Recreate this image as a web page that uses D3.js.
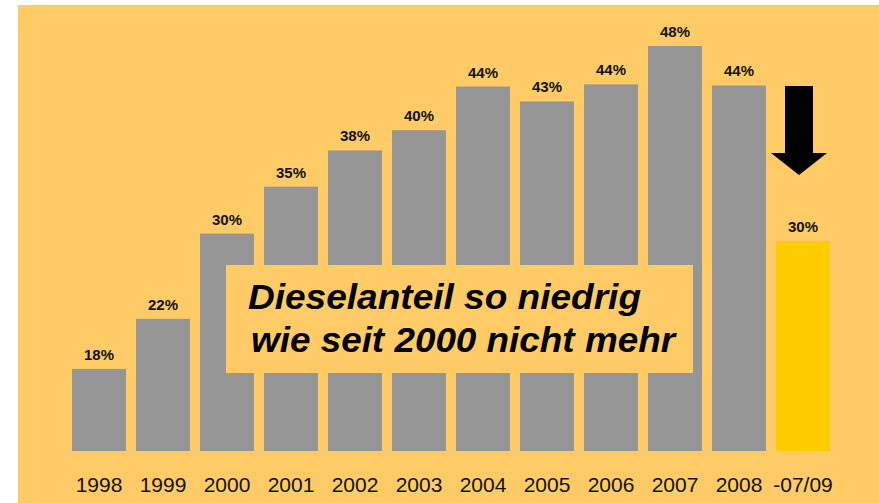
<!DOCTYPE html>
<html><head><meta charset="utf-8">
<script src="https://cdnjs.cloudflare.com/ajax/libs/d3/7.8.5/d3.min.js"></script>
<style>html,body{margin:0;padding:0;background:#fff;}svg{display:block;}</style>
</head><body>
<script>
const categories = ["1998","1999","2000","2001","2002","2003","2004","2005","2006","2007","2008","-07/09"];
const values = [17.7, 22.4, 30.4, 34.8, 38.2, 40.1, 44.2, 42.8, 44.4, 48.0, 44.3, 29.7];
const highlight = ["-07/09"];
const noteLines = ["Dieselanteil so niedrig", "wie seit 2000 nicht mehr"];

const W = 879, H = 503;
const svg = d3.select("body").append("svg").attr("width", W).attr("height", H);

svg.append("rect").attr("x", 18).attr("y", 5).attr("width", W - 18).attr("height", H - 5).attr("fill", "#FECB67");

const x = d3.scaleBand().domain(categories).range([67, 835]).paddingInner(10/64).paddingOuter(5/64);
const y = d3.scaleLinear().domain([10, 48]).range([451, 46]);

svg.selectAll("rect.bar").data(categories).join("rect")
  .attr("class", "bar")
  .attr("x", d => x(d))
  .attr("width", x.bandwidth())
  .attr("y", (d, i) => y(values[i]))
  .attr("height", (d, i) => y(10) - y(values[i]))
  .attr("fill", d => highlight.includes(d) ? "#FFCC00" : "#969696");

svg.selectAll("text.val").data(categories).join("text")
  .attr("class", "val")
  .attr("x", d => x(d) + x.bandwidth() / 2)
  .attr("y", (d, i) => y(values[i]) - 9)
  .attr("text-anchor", "middle")
  .attr("font-family", "Liberation Sans, Arial, sans-serif")
  .attr("font-weight", "bold")
  .attr("font-size", 15)
  .attr("fill", "#111")
  .text((d, i) => d3.format(".0f")(values[i]) + "%");

svg.selectAll("text.cat").data(categories).join("text")
  .attr("class", "cat")
  .attr("x", d => x(d) + x.bandwidth() / 2)
  .attr("y", 492)
  .attr("text-anchor", "middle")
  .attr("font-family", "Liberation Sans, Arial, sans-serif")
  .attr("font-size", 21)
  .attr("fill", "#111")
  .text(d => d);

// arrow over last bar
const ax = x("-07/09") + x.bandwidth() / 2 - 4;
const arrow = d3.path();
arrow.moveTo(ax - 14, 86); arrow.lineTo(ax + 14, 86); arrow.lineTo(ax + 14, 153);
arrow.lineTo(ax + 28, 153); arrow.lineTo(ax, 175); arrow.lineTo(ax - 28, 153);
arrow.lineTo(ax - 14, 153); arrow.closePath();
svg.append("path").attr("d", arrow.toString()).attr("fill", "#000");

// note box
svg.append("rect").attr("x", 226).attr("y", 265).attr("width", 467).attr("height", 108).attr("fill", "#FECB67");
const noteX = [248, 251], noteLen = [393, 424];
svg.append("g").selectAll("text").data(noteLines).join("text")
  .attr("x", (d, i) => noteX[i])
  .attr("y", (d, i) => 309 + i * 43)
  .attr("textLength", (d, i) => noteLen[i])
  .attr("lengthAdjust", "spacingAndGlyphs")
  .attr("font-family", "Liberation Sans, Arial, sans-serif")
  .attr("font-weight", "bold")
  .attr("font-style", "italic")
  .attr("font-size", 35)
  .attr("fill", "#000")
  .text(d => d);
</script>
</body></html>
